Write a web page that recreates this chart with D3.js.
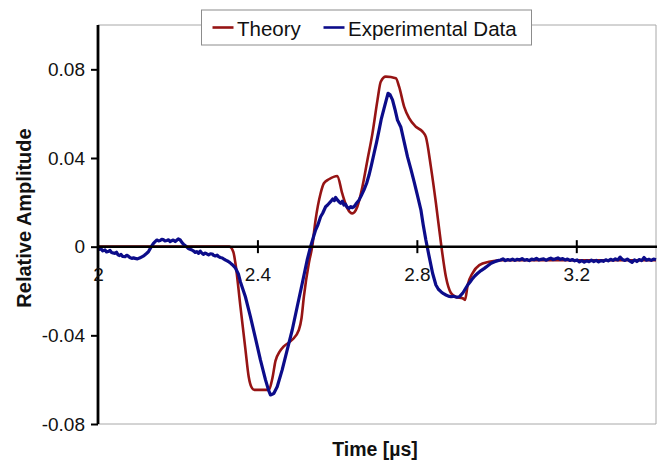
<!DOCTYPE html>
<html>
<head>
<meta charset="utf-8">
<script src="https://cdn.jsdelivr.net/npm/d3@7"></script>
<style>
  html, body { margin: 0; padding: 0; background: #fff; }
  svg { display: block; font-family: "Liberation Sans", Arial, sans-serif; }
</style>
</head>
<body>
<svg id="chart" width="668" height="461"></svg>
<script>
// Time axis (µs) and amplitude ticks
const xTicks = [2, 2.4, 2.8, 3.2];
const yTicks = [-0.08, -0.04, 0, 0.04, 0.08];

// Theoretical waveform: time (µs) and relative amplitude
const theoryTime = [2.000, 2.3296, 2.3396, 2.3447, 2.3572, 2.3698, 2.3781, 2.3849, 2.3925, 2.4277,
  2.4377, 2.4453, 2.4553, 2.4662, 2.4873, 2.5039, 2.5107, 2.5165, 2.5291, 2.5374,
  2.5458, 2.5584, 2.5668, 2.5794, 2.6005, 2.6128, 2.6257, 2.6380, 2.6506, 2.6634,
  2.6759, 2.6885, 2.7011, 2.7094, 2.7220, 2.7472, 2.7555, 2.7680, 2.7806, 2.7975,
  2.8143, 2.8226, 2.8352, 2.8478, 2.8604, 2.8730, 2.8855, 2.8981, 2.9150, 2.9208,
  2.9275, 2.9399, 2.9567, 2.9811, 3.0113, 3.4000];
const theoryAmp = [0, 0, -0.0024, -0.0074, -0.0268, -0.0462, -0.0587, -0.0633, -0.0646, -0.0646,
  -0.0592, -0.0515, -0.0475, -0.0450, -0.0420, -0.0376, -0.0322, -0.0226, -0.0074, 0,
  0.0120, 0.0240, 0.0286, 0.0304, 0.0319, 0.0240, 0.0173, 0.0150, 0.0180, 0.0270,
  0.0390, 0.0510, 0.0660, 0.0744, 0.0767, 0.0760, 0.0722, 0.0632, 0.0580, 0.0541,
  0.0519, 0.0495, 0.0360, 0.0197, 0.0017, -0.0137, -0.0209, -0.0227, -0.0233, -0.0240,
  -0.0173, -0.0119, -0.0083, -0.0068, -0.0061, -0.0061];

// Measured waveform: time (µs) and relative amplitude
const expTime = [2.000, 2.0040, 2.0075, 2.0120, 2.0176, 2.0215, 2.0252, 2.0302, 2.0340, 2.0377,
  2.0428, 2.0465, 2.0503, 2.0540, 2.0579, 2.0620, 2.0679, 2.0720, 2.0755, 2.0800,
  2.0848, 2.0890, 2.0931, 2.0990, 2.1057, 2.1100, 2.1157, 2.1210, 2.1265, 2.1333,
  2.1391, 2.1440, 2.1477, 2.1520, 2.1560, 2.1600, 2.1635, 2.1680, 2.1728, 2.1770,
  2.1811, 2.1850, 2.1887, 2.1937, 2.1975, 2.2013, 2.2063, 2.2113, 2.2150, 2.2189,
  2.2264, 2.2357, 2.2400, 2.2440, 2.2480, 2.2523, 2.2566, 2.2600, 2.2642, 2.2680,
  2.2717, 2.2775, 2.2820, 2.2868, 2.2900, 2.2943, 2.2990, 2.3026, 2.3070, 2.3119,
  2.3160, 2.3195, 2.3230, 2.3270, 2.3310, 2.3363, 2.3400, 2.3447, 2.3522, 2.3572,
  2.3698, 2.3824, 2.3950, 2.4075, 2.4201, 2.4277, 2.4327, 2.4370, 2.4410, 2.4496,
  2.4621, 2.4747, 2.4873, 2.4999, 2.5125, 2.5248, 2.5333, 2.5400, 2.5459, 2.5520,
  2.5585, 2.5640, 2.5711, 2.5760, 2.5836, 2.5890, 2.5930, 2.5962, 2.6000, 2.6045,
  2.6090, 2.6130, 2.6171, 2.6210, 2.6250, 2.6297, 2.6340, 2.6380, 2.6423, 2.6470,
  2.6548, 2.6600, 2.6674, 2.6740, 2.6800, 2.6860, 2.6926, 2.6990, 2.7052, 2.7110,
  2.7177, 2.7230, 2.7278, 2.7330, 2.7389, 2.7450, 2.7514, 2.7597, 2.7680, 2.7766,
  2.7850, 2.7932, 2.8010, 2.8101, 2.8160, 2.8226, 2.8309, 2.8395, 2.8478, 2.8540,
  2.8604, 2.8670, 2.8730, 2.8790, 2.8855, 2.8920, 2.9000, 2.9064, 2.9150, 2.9210,
  2.9275, 2.9340, 2.9401, 2.9460, 2.9527, 2.9610, 2.9693, 2.9780, 2.9862, 2.9950,
  3.0030,
  3.010, 3.016, 3.022, 3.028, 3.034, 3.040, 3.046, 3.052, 3.058, 3.064,
  3.070, 3.076, 3.082, 3.088, 3.094, 3.100, 3.106, 3.112, 3.118, 3.124,
  3.130, 3.136, 3.142, 3.148, 3.154, 3.160, 3.166, 3.172, 3.178, 3.184,
  3.190, 3.196, 3.202, 3.208, 3.214, 3.220, 3.226, 3.232, 3.238, 3.244,
  3.250, 3.256, 3.262, 3.268, 3.274, 3.280, 3.286, 3.292, 3.298, 3.304,
  3.310, 3.316, 3.322, 3.328, 3.334, 3.340, 3.346, 3.352, 3.358, 3.364,
  3.370, 3.376, 3.382, 3.388, 3.394, 3.400];
const expAmp = [-0.0005, -0.0012, -0.0010, -0.0019, -0.0015, -0.0024, -0.0022, -0.0017, -0.0026, -0.0028,
  -0.0030, -0.0025, -0.0037, -0.0040, -0.0035, -0.0044, -0.0045, -0.0039, -0.0042, -0.0049,
  -0.0053, -0.0050, -0.0053, -0.0055, -0.0050, -0.0046, -0.0040, -0.0032, -0.0023, -0.0001,
  0.0015, 0.0024, 0.0030, 0.0026, 0.0028, 0.0033, 0.0032, 0.0026, 0.0028, 0.0031,
  0.0023, 0.0027, 0.0030, 0.0023, 0.0029, 0.0035, 0.0030, 0.0017, 0.0010, 0.0005,
  -0.0008, -0.0015, -0.0020, -0.0026, -0.0022, -0.0030, -0.0020, -0.0028, -0.0035, -0.0029,
  -0.0031, -0.0037, -0.0032, -0.0033, -0.0039, -0.0042, -0.0038, -0.0045, -0.0049, -0.0051,
  -0.0056, -0.0060, -0.0063, -0.0067, -0.0072, -0.0080, -0.0087, -0.0096, -0.0123, -0.0158,
  -0.0226, -0.0316, -0.0413, -0.0511, -0.0600, -0.0646, -0.0669, -0.0666, -0.0662, -0.0632,
  -0.0556, -0.0466, -0.0376, -0.0270, -0.0165, -0.0060, 0, 0.0040, 0.0075, 0.0100,
  0.0135, 0.0152, 0.0180, 0.0188, 0.0203, 0.0215, 0.0208, 0.0222, 0.0212, 0.0203,
  0.0196, 0.0205, 0.0188, 0.0192, 0.0178, 0.0173, 0.0181, 0.0176, 0.0180, 0.0192,
  0.0210, 0.0228, 0.0256, 0.0286, 0.0323, 0.0368, 0.0421, 0.0472, 0.0526, 0.0578,
  0.0624, 0.0660, 0.0692, 0.0685, 0.0662, 0.0620, 0.0571, 0.0540, 0.0474, 0.0405,
  0.0350, 0.0292, 0.0235, 0.0166, 0.0098, 0.0030, -0.0045, -0.0120, -0.0173, -0.0192,
  -0.0203, -0.0212, -0.0218, -0.0223, -0.0226, -0.0224, -0.0228, -0.0226, -0.0210, -0.0192,
  -0.0173, -0.0158, -0.0143, -0.0131, -0.0120, -0.0108, -0.0098, -0.0086, -0.0075, -0.0068,
  -0.0063,
  -0.0060, -0.0055, -0.0063, -0.0058, -0.0061, -0.0056, -0.0062, -0.0057, -0.0060, -0.0054,
  -0.0061, -0.0058, -0.0063, -0.0056, -0.0059, -0.0053, -0.0060, -0.0057, -0.0055, -0.0061,
  -0.0056, -0.0052, -0.0058, -0.0055, -0.0051, -0.0057, -0.0054, -0.0060, -0.0056, -0.0062,
  -0.0058, -0.0064, -0.0060, -0.0069, -0.0063, -0.0070, -0.0064, -0.0068, -0.0061, -0.0067,
  -0.0062, -0.0069, -0.0063, -0.0066, -0.0059, -0.0064, -0.0057, -0.0062, -0.0055, -0.0060,
  -0.0047, -0.0058, -0.0062, -0.0056, -0.0064, -0.0071, -0.0060, -0.0067, -0.0058, -0.0063,
  -0.0049, -0.0061, -0.0057, -0.0062, -0.0056, -0.0059];

const seriesNames = ["Theory", "Experimental Data"];
const seriesColors = ["#961414", "#0c0c8a"];

const svg = d3.select("#chart");
const plotLeft = 98, plotRight = 656, plotTop = 25, plotBottom = 424;

const x = d3.scaleLinear().domain([2, 3.4]).range([plotLeft, plotRight]);
const y = d3.scaleLinear().domain([-0.08, 0.1]).range([plotBottom, plotTop]);

// plot area frame (top, right, bottom)
svg.append("path")
  .attr("d", `M${plotLeft},${plotTop}H${plotRight}V${plotBottom}H${plotLeft}`)
  .attr("fill", "none")
  .attr("stroke", "#a8a8a8")
  .attr("stroke-width", 1);

// series
const theory = theoryTime.map((t, i) => [t, theoryAmp[i]]);
const measured = expTime.map((t, i) => [t, expAmp[i]]);

svg.append("path")
  .datum(theory)
  .attr("fill", "none")
  .attr("stroke", seriesColors[0])
  .attr("stroke-width", 2.6)
  .attr("stroke-linejoin", "round")
  .attr("d", d3.line().x(d => x(d[0])).y(d => y(d[1])).curve(d3.curveMonotoneX));

svg.append("path")
  .datum(measured)
  .attr("fill", "none")
  .attr("stroke", seriesColors[1])
  .attr("stroke-width", 3.2)
  .attr("stroke-linejoin", "round")
  .attr("d", d3.line().x(d => x(d[0])).y(d => y(d[1])));

// y axis
const yAxis = svg.append("g")
  .attr("transform", `translate(${plotLeft},0)`)
  .call(d3.axisLeft(y).tickValues(yTicks).tickSize(7).tickSizeOuter(0).tickPadding(6)
    .tickFormat(d => d === 0 ? "0" : d.toFixed(2)));
yAxis.select(".domain").attr("stroke", "#000").attr("stroke-width", 2.8)
  .attr("d", `M0,${plotTop}V${plotBottom}`);
yAxis.selectAll(".tick line").attr("stroke", "#000").attr("stroke-width", 2);
yAxis.selectAll(".tick text").attr("font-size", 19).attr("fill", "#111")
  .attr("font-family", "Liberation Sans, Arial, sans-serif");

// x axis crossing at zero amplitude
const xAxis = svg.append("g")
  .attr("transform", `translate(0,${y(0)})`)
  .call(d3.axisBottom(x).tickValues(xTicks).tickSize(6).tickSizeOuter(0)
    .tickFormat(d => String(d)));
xAxis.select(".domain").attr("stroke", "#000").attr("stroke-width", 2.5)
  .attr("d", `M${plotLeft},0H${plotRight + 1}`);
xAxis.selectAll(".tick line").attr("stroke", "#000").attr("stroke-width", 2)
  .attr("y1", -6.5).attr("y2", 6.5)
  .filter(d => d === 2).remove();
xAxis.selectAll(".tick text").attr("font-size", 19).attr("fill", "#111")
  .attr("y", 21).attr("dy", "0.71em")
  .attr("font-family", "Liberation Sans, Arial, sans-serif");

// axis titles
svg.append("text")
  .attr("transform", "translate(31,218) rotate(-90)")
  .attr("text-anchor", "middle")
  .attr("font-size", 20)
  .attr("font-weight", "bold")
  .attr("fill", "#111")
  .text("Relative Amplitude");

svg.append("text")
  .attr("x", 375)
  .attr("y", 456)
  .attr("text-anchor", "middle")
  .attr("font-size", 19.5)
  .attr("font-weight", "bold")
  .attr("fill", "#111")
  .text("Time [µs]");

// legend
const legend = svg.append("g");
legend.append("rect")
  .attr("x", 201.5).attr("y", 10).attr("width", 330).attr("height", 35)
  .attr("fill", "#fff").attr("stroke", "#8c8c8c").attr("stroke-width", 1);
const legendX = [212.5, 323.5];
seriesNames.forEach((name, i) => {
  legend.append("line")
    .attr("x1", legendX[i]).attr("x2", legendX[i] + 21)
    .attr("y1", 27.5).attr("y2", 27.5)
    .attr("stroke", seriesColors[i]).attr("stroke-width", 2.6);
  legend.append("text")
    .attr("x", legendX[i] + 24.5).attr("y", 35.5)
    .attr("font-size", 20.5).attr("fill", "#111")
    .text(name);
});
</script>
</body>
</html>
